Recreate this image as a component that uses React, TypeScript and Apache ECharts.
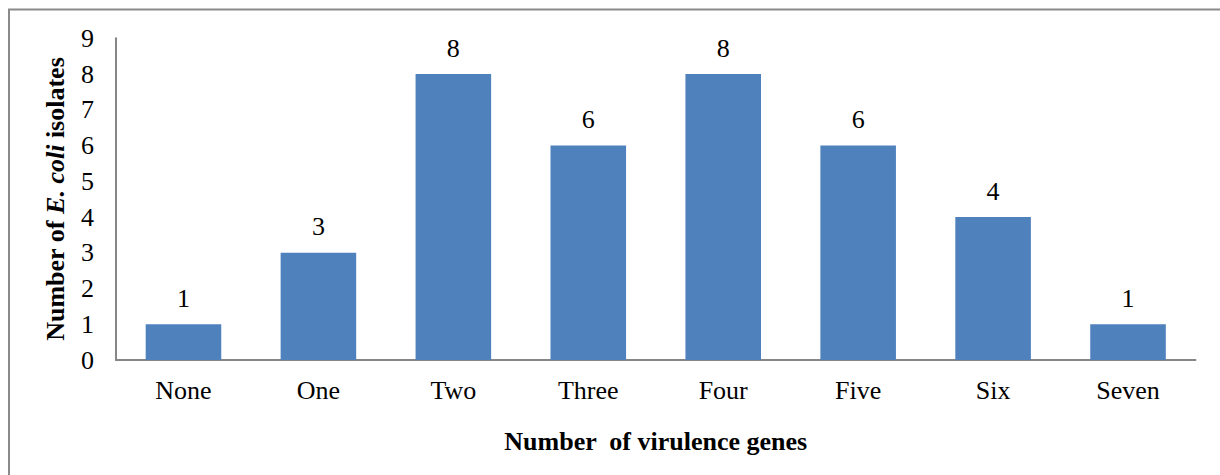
import React, { useEffect, useRef } from "react";
import * as echarts from "echarts";

const categories = ["None", "One", "Two", "Three", "Four", "Five", "Six", "Seven"];
const isolateCounts = [1, 3, 8, 6, 8, 6, 4, 1];
const yTicks = { min: 0, max: 9, interval: 1 };

const FONT = "'Times New Roman', 'Liberation Serif', serif";
const FS = 26;

export default function App() {
  const ref = useRef<HTMLDivElement>(null);
  useEffect(() => {
    if (!ref.current) return;
    const chart = echarts.init(ref.current, undefined, { renderer: "svg" });
    chart.setOption({
      animation: false,
      backgroundColor: "#ffffff",
      textStyle: { fontFamily: FONT },
      graphic: [
        {
          type: "rect",
          shape: { x: 9, y: 9.5, width: 1400, height: 1000 },
          style: { fill: "none", stroke: "#8a8a8a", lineWidth: 2 },
          silent: true,
        },
      ],
      grid: { left: 116, right: 24.5, top: 38.25, bottom: 115, containLabel: false },
      xAxis: {
        type: "category",
        data: categories,
        axisLine: { show: true, lineStyle: { color: "#868686", width: 2 } },
        axisTick: { show: false },
        axisLabel: { color: "#000", fontFamily: FONT, fontSize: FS, margin: 17 },
        name: "Number  of virulence genes",
        nameLocation: "middle",
        nameGap: 68,
        nameTextStyle: { color: "#000", fontFamily: FONT, fontSize: FS, fontWeight: "bold" },
      },
      yAxis: {
        type: "value",
        min: yTicks.min,
        max: yTicks.max,
        interval: yTicks.interval,
        splitLine: { show: false },
        axisLine: { show: true, lineStyle: { color: "#868686", width: 2 } },
        axisTick: { show: false },
        axisLabel: { color: "#000", fontFamily: FONT, fontSize: FS, margin: 22 },
        name: "{a|Number of }{b|E. coli}{a| isolates}",
        nameLocation: "middle",
        nameRotate: 90,
        nameGap: 48,
        nameTextStyle: {
          rich: {
            a: { color: "#000", fontFamily: FONT, fontSize: FS, fontWeight: "bold" },
            b: { color: "#000", fontFamily: FONT, fontSize: FS, fontWeight: "bold", fontStyle: "italic" },
          },
        },
      },
      series: [
        {
          type: "bar",
          data: isolateCounts,
          barCategoryGap: "44%",
          itemStyle: { color: "#4F81BD" },
          label: {
            show: true,
            position: "top",
            distance: 13,
            color: "#000",
            fontFamily: FONT,
            fontSize: FS,
          },
        },
      ],
    });
    return () => chart.dispose();
  }, []);
  return (
    <div
      ref={ref}
      style={{ position: "absolute", left: 0, top: 0, width: 1220, height: 475 }}
    />
  );
}
